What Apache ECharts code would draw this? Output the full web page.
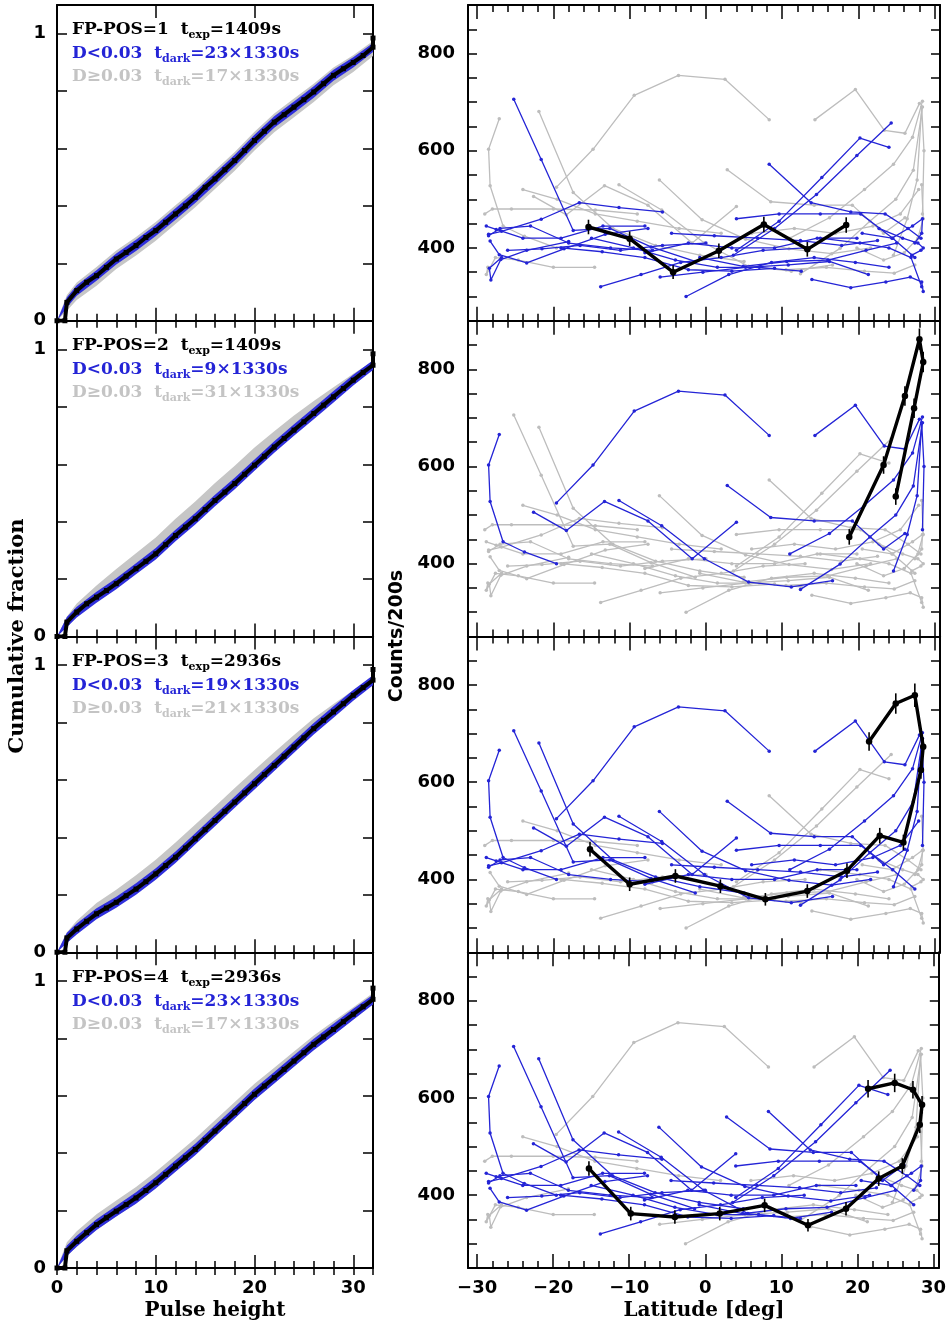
<!DOCTYPE html>
<html>
<head>
<meta charset="utf-8">
<script src="https://cdn.jsdelivr.net/npm/echarts@6/dist/echarts.min.js"></script>
<style>
html,body{margin:0;padding:0;background:#fff}
#chart{width:949px;height:1328px}
</style>
</head>
<body>
<div id="chart"></div>
<script>
// ---------- pulse-height distributions (left column) ----------
const pulseBins = [0,0.8,1,2,3,4,5,6,7,8,9,10,11,12,13,14,15,16,17,18,19,20,21,22,23,24,25,26,27,28,29,30,31,32,32];
const cumFP1 = [0,0,0.064,0.105,0.134,0.157,0.186,0.215,0.238,0.262,0.29,0.314,0.343,0.372,0.40,0.43,0.465,0.494,0.526,0.558,0.593,0.628,0.66,0.692,0.718,0.744,0.77,0.797,0.826,0.855,0.878,0.90,0.924,0.953,0.985];
const cumFP2 = [0,0,0.05,0.085,0.114,0.137,0.16,0.184,0.21,0.236,0.262,0.288,0.32,0.352,0.381,0.41,0.442,0.474,0.503,0.533,0.565,0.597,0.628,0.66,0.69,0.719,0.748,0.777,0.806,0.835,0.864,0.893,0.92,0.945,0.985];
const cumFP3 = [0,0,0.05,0.081,0.108,0.134,0.154,0.174,0.197,0.22,0.246,0.273,0.302,0.331,0.363,0.395,0.427,0.459,0.491,0.523,0.555,0.587,0.619,0.651,0.683,0.715,0.747,0.779,0.808,0.837,0.866,0.895,0.922,0.948,0.985];
const cumFP4 = [0,0,0.06,0.093,0.123,0.151,0.175,0.198,0.221,0.244,0.27,0.297,0.326,0.355,0.384,0.413,0.445,0.477,0.509,0.541,0.573,0.605,0.634,0.663,0.692,0.721,0.75,0.779,0.805,0.831,0.858,0.884,0.91,0.936,0.975];

// envelopes of the individual dark-frame distributions
const bandPulse = [0,1,2,4,6,8,10,12,14,16,18,20,22,24,26,28,30,32];
const grayLo1 = [0,0.035,0.072,0.122,0.18,0.227,0.279,0.337,0.395,0.459,0.523,0.593,0.657,0.709,0.762,0.82,0.867,0.922];
const grayHi1 = [0,0.09,0.133,0.187,0.245,0.292,0.344,0.402,0.46,0.524,0.588,0.658,0.722,0.774,0.826,0.882,0.925,0.975];
const blueLo1 = [0,0.046,0.087,0.139,0.196,0.243,0.295,0.352,0.41,0.474,0.538,0.607,0.672,0.724,0.777,0.836,0.882,0.936];
const blueHi1 = [0,0.082,0.124,0.176,0.234,0.282,0.334,0.392,0.45,0.514,0.578,0.648,0.712,0.764,0.817,0.874,0.918,0.968];
const grayLo2 = [0,0.045,0.082,0.135,0.185,0.24,0.295,0.36,0.42,0.485,0.545,0.61,0.672,0.73,0.787,0.843,0.898,0.948];
const grayHi2 = [0,0.07,0.115,0.178,0.235,0.29,0.345,0.41,0.47,0.535,0.595,0.658,0.715,0.77,0.82,0.868,0.915,0.96];
const blueLo2 = [0,0.032,0.066,0.118,0.165,0.217,0.268,0.332,0.39,0.454,0.513,0.577,0.64,0.699,0.757,0.815,0.874,0.928];
const blueHi2 = [0,0.068,0.104,0.156,0.203,0.255,0.308,0.372,0.43,0.494,0.553,0.617,0.68,0.739,0.797,0.855,0.912,0.962];
const grayLo3 = [0,0.045,0.08,0.135,0.18,0.228,0.283,0.342,0.405,0.47,0.533,0.598,0.662,0.725,0.787,0.843,0.898,0.95];
const grayHi3 = [0,0.07,0.11,0.172,0.218,0.268,0.322,0.382,0.445,0.508,0.572,0.635,0.697,0.757,0.815,0.865,0.913,0.96];
const blueLo3 = [0,0.032,0.062,0.115,0.155,0.2,0.253,0.311,0.375,0.439,0.503,0.567,0.631,0.695,0.759,0.817,0.876,0.93];
const blueHi3 = [0,0.068,0.1,0.153,0.193,0.24,0.293,0.351,0.415,0.479,0.543,0.607,0.671,0.735,0.799,0.857,0.914,0.965];
const grayLo4 = [0,0.04,0.075,0.132,0.18,0.226,0.278,0.336,0.394,0.458,0.522,0.586,0.644,0.702,0.76,0.813,0.866,0.92];
const grayHi4 = [0,0.09,0.128,0.187,0.235,0.282,0.335,0.393,0.451,0.515,0.578,0.642,0.698,0.754,0.81,0.86,0.908,0.958];
const blueLo4 = [0,0.042,0.074,0.132,0.179,0.224,0.277,0.335,0.393,0.457,0.521,0.585,0.643,0.701,0.759,0.811,0.865,0.918];
const blueHi4 = [0,0.078,0.112,0.17,0.217,0.264,0.317,0.375,0.433,0.497,0.561,0.625,0.683,0.741,0.799,0.851,0.903,0.952];

// ---------- count rate along the orbit (right column) ----------
// one track per dark exposure: latitude [deg] and counts per 200 s bin
const trackLatitudes = [
  [-19.6,-14.8,-9.4,-3.6,2.5,8.3],
  [14.3,19.6,23.4,26.1,28.0],
  [-27.1,-28.5,-28.3,-26.6,-23.8,-19.6],
  [-25.2,-21.6,-17.4,-12.6,-7.2,-1.4],
  [-21.9,-17.4,-12.2,-6.6,-0.8,5.0],
  [-22.6,-18.3,-13.3,-7.6,-1.8,4.0],
  [-11.4,-5.8,-0.2,5.6,11.2,16.6],
  [-6.1,-0.5,5.2,10.9,16.5,21.6],
  [2.8,8.5,14.2,19.2,23.3,26.1],
  [8.3,13.8,19.0,23.5,26.5,28.2],
  [4.0,9.6,15.2,20.2,24.0],
  [3.6,9.0,14.5,19.8,24.3],
  [12.4,17.6,21.5,24.9,27.2,28.4],
  [11.0,16.2,20.8,24.6,27.1,28.4],
  [24.6,26.4,27.7,28.3,28.6,28.4],
  [-28.5,-26.8,-21.6,-16.6,-11.4,-5.7],
  [-28.3,-27.1,-23.5,-18.6,-13.2,-7.6],
  [-26.8,-28.4,-28.2,-26.9,-23.5,-18.0],
  [-28.8,-27.5,-24.0,-19.0,-13.5,-8.0],
  [-29.0,-28.0,-25.5,-20.0,-14.5,-9.0],
  [-28.5,-27.0,-23.0,-18.0,-12.5,-7.0],
  [-15.0,-9.5,-4.0,1.5,7.0,12.5],
  [-13.8,-8.5,-3.3,2.0,7.5,13.0],
  [-2.6,3.0,8.6,14.2,19.6,24.0],
  [-6.0,-0.4,5.2,10.8,16.2,21.3],
  [4.0,9.6,15.0,20.3,24.5,27.4],
  [13.9,19.0,23.6,26.8,28.3,28.5],
  [19.8,23.3,26.0,27.8,28.5,28.3],
  [15.0,20.2,24.0,26.9,28.3],
  [-8.0,-2.3,3.4,9.0,14.6,19.8],
  [-19.0,-13.6,-8.0,-2.3,3.4,9.0],
  [20.5,24.4,27.1,28.4,28.3,27.4],
  [-26.0,-21.5,-16.5,-11.2,-5.7,0.0],
  [-0.8,4.9,10.6,16.0,21.0,25.0],
  [22.7,25.8,27.8,28.5,28.2,27.0],
  [-28.6,-28.8,-27.6,-24.6,-20.0,-14.6],
  [10.5,15.8,20.8,24.7,27.4],
  [-4.5,1.1,6.8,12.4,17.8,22.5],
  [-24.0,-19.5,-14.5,-9.0,-3.5,2.0],
  [6.0,11.6,17.0,21.9,25.5,27.9]
];
const trackCounts = [
  [525,603,714,755,747,664],
  [664,726,642,636,697],
  [666,603,528,445,424,400],
  [706,582,436,440,402,372],
  [681,514,440,405,385,372],
  [506,468,528,488,410,485],
  [530,478,410,362,352,365],
  [540,458,418,398,388,400],
  [561,495,488,488,430,462],
  [572,493,474,470,440,420],
  [395,455,545,626,607],
  [385,440,510,590,657],
  [347,399,455,500,560,690],
  [420,462,520,572,628,702],
  [385,460,540,690,600,470],
  [428,434,459,493,483,474],
  [414,386,369,398,428,440],
  [380,358,334,376,395,413],
  [445,438,420,420,445,445],
  [470,480,480,480,478,470],
  [425,440,445,410,400,395],
  [420,400,375,360,360,352],
  [320,345,370,380,395,400],
  [300,345,370,380,370,360],
  [340,350,360,365,372,345],
  [460,470,470,470,420,380],
  [335,318,330,340,330,310],
  [400,375,390,420,460,530],
  [420,410,400,380,320],
  [390,410,400,400,420,420],
  [400,392,380,355,352,358],
  [430,420,445,460,430,410],
  [395,398,405,395,405,410],
  [380,362,372,375,395,410],
  [440,420,410,400,395,385],
  [360,345,380,375,360,360],
  [355,360,352,348,365],
  [430,425,420,415,405,415],
  [520,500,470,455,440,430],
  [430,440,430,445,470,520]
];
// tracks with D<0.03 for each FP-POS (the rest have D>=0.03)
const lowDarkFP1 = [3,9,10,11,15,16,17,18,20,21,22,23,24,25,26,28,29,30,31,32,33,34,37];
const lowDarkFP2 = [0,1,2,5,6,8,12,13,14];
const lowDarkFP3 = [0,1,2,3,4,5,6,7,8,12,13,14,15,18,20,25,29,37,39];
const lowDarkFP4 = [2,3,4,5,6,7,8,9,10,11,15,16,18,20,21,22,25,29,30,31,32,33,37];

// science exposure for each FP-POS
const sciLatFP1 = [-15.4,-10.0,-4.3,1.7,7.6,13.3,18.4];
const sciCntFP1 = [443,419,350,394,448,397,447];
const sciErrFP1 = [15,15,14,15,16,15,16];
const sciLatFP2 = [18.8,23.3,26.1,28.0,28.5,27.3,24.9];
const sciCntFP2 = [455,603,745,862,815,720,538];
const sciErrFP2 = [16,18,20,22,21,20,17];
const sciLatFP3 = [-15.2,-10.0,-4.0,1.9,7.8,13.3,18.5,22.8,25.9,28.2,28.5,27.4,24.9,21.4];
const sciCntFP3 = [462,390,407,386,359,376,418,490,476,625,673,779,762,684];
const sciErrFP3 = [15,14,14,14,13,14,15,16,16,18,19,24,21,19];
const sciLatFP4 = [-15.3,-9.8,-4.0,1.9,7.8,13.5,18.5,22.8,25.9,28.2,28.5,27.3,24.9,21.4];
const sciCntFP4 = [455,362,355,362,379,338,372,434,460,545,586,617,631,619];
const sciErrFP4 = [15,14,14,14,14,13,14,15,16,17,18,18,19,18];

// ---------- axis ticks and labels ----------
const pulseMajor = [0,10,20,30];
const pulseMinor = [0,2,4,6,8,10,12,14,16,18,20,22,24,26,28,30,32];
const fracTicks = [0,0.2,0.4,0.6,0.8,1];
const fracLabels = [0,1];
const latMajor = [-30,-20,-10,0,10,20,30];
const latMinor = [-30,-28,-26,-24,-22,-20,-18,-16,-14,-12,-10,-8,-6,-4,-2,0,2,4,6,8,10,12,14,16,18,20,22,24,26,28,30];
const countTicks = [300,350,400,450,500,550,600,650,700,750,800,850];
const countLabels = [400,600,800];

const fpNames = ['FP-POS=1','FP-POS=2','FP-POS=3','FP-POS=4'];
const expTimes = ['1409s','1409s','2936s','2936s'];
const nLowDark = [23,9,19,23];
const nHighDark = [17,31,21,17];

// ---------- layout ----------
const PANEL_TOP = [5, 320.75, 636.5, 952.25];
const PANEL_H = 315.75;
const BLUE = '#2424d6';
const GRAY = '#bdbdbd';
const SANS = 'DejaVu Sans';
const SERIF = 'DejaVu Serif';

const grids = [], xAxes = [], yAxes = [], series = [], graphics = [];
const tickLabel = {color:'#000', fontFamily:SANS, fontWeight:'bold', fontSize:18};
const minusFmt = v => (v < 0 ? '\u2212' + Math.abs(v) : String(v));

function addAxes(g, xr, yr, xMaj, xMin, xLab, yTicks, yLab, xLen, yLen, showX, yMargin) {
  const xi = xAxes.length;
  const frame = {show:true, onZero:false, lineStyle:{color:'#000', width:2}};
  const tickStyle = {color:'#000', width:1.5};
  const xb = {type:'value', gridIndex:g, min:xr[0], max:xr[1], splitLine:{show:false}};
  xAxes.push(Object.assign({}, xb, {position:'bottom', axisLine:frame,
    axisTick:{show:true, inside:true, length:xLen[0], customValues:xMaj, lineStyle:tickStyle},
    axisLabel:Object.assign({show:showX, customValues:xLab, margin:11, formatter:minusFmt}, tickLabel)}));
  xAxes.push(Object.assign({}, xb, {position:'bottom', axisLine:{show:false},
    axisTick:{show:true, inside:true, length:xLen[1], customValues:xMin, lineStyle:tickStyle},
    axisLabel:{show:false}}));
  xAxes.push(Object.assign({}, xb, {position:'top', axisLine:frame,
    axisTick:{show:true, inside:true, length:xLen[0], customValues:xMaj, lineStyle:tickStyle},
    axisLabel:{show:false}}));
  xAxes.push(Object.assign({}, xb, {position:'top', axisLine:{show:false},
    axisTick:{show:true, inside:true, length:xLen[1], customValues:xMin, lineStyle:tickStyle},
    axisLabel:{show:false}}));
  const yi = yAxes.length;
  const yb = {type:'value', gridIndex:g, min:yr[0], max:yr[1], splitLine:{show:false}};
  yAxes.push(Object.assign({}, yb, {position:'left', axisLine:frame,
    axisTick:{show:true, inside:true, length:yLen, customValues:yTicks, lineStyle:tickStyle},
    axisLabel:Object.assign({show:true, customValues:yLab, margin:yMargin}, tickLabel)}));
  yAxes.push(Object.assign({}, yb, {position:'right', axisLine:frame,
    axisTick:{show:true, inside:true, length:yLen, customValues:yTicks, lineStyle:tickStyle},
    axisLabel:{show:false}}));
  return {xi, yi};
}

function band(ax, xs, lo, hi, color, z) {
  return {type:'custom', xAxisIndex:ax.xi, yAxisIndex:ax.yi, data:[[xs[0], lo[0]]],
    silent:true, animation:false, clip:true, z:z,
    renderItem(params, api) {
      const pts = [];
      for (let k = 0; k < xs.length; k++) pts.push(api.coord([xs[k], hi[k]]));
      for (let k = xs.length - 1; k >= 0; k--) pts.push(api.coord([xs[k], lo[k]]));
      return {type:'polygon', shape:{points:pts}, style:{fill:color}};
    }};
}

// left column: cumulative pulse-height distributions
const cumBlack = [cumFP1, cumFP2, cumFP3, cumFP4];
const grayLo = [grayLo1, grayLo2, grayLo3, grayLo4];
const grayHi = [grayHi1, grayHi2, grayHi3, grayHi4];
const blueLo = [blueLo1, blueLo2, blueLo3, blueLo4];
const blueHi = [blueHi1, blueHi2, blueHi3, blueHi4];

for (let p = 0; p < 4; p++) {
  grids.push({left:57, width:316, top:PANEL_TOP[p], height:PANEL_H, containLabel:false});
  const ax = addAxes(grids.length - 1, [0, 32], [0, 1.1], pulseMajor, pulseMinor, pulseMajor,
    fracTicks, fracLabels, [13, 7], 10, p === 3, 11);
  series.push(band(ax, bandPulse, grayLo[p], grayHi[p], '#c6c6c6', 2));
  series.push(band(ax, bandPulse, blueLo[p], blueHi[p], '#3030dc', 3));
  series.push({type:'line', xAxisIndex:ax.xi, yAxisIndex:ax.yi,
    data:pulseBins.map((v, k) => [v, cumBlack[p][k]]),
    symbol:'rect', symbolSize:5, showSymbol:true, silent:true, animation:false,
    lineStyle:{color:'#000', width:4}, itemStyle:{color:'#000'}, z:4});
}

// right column: counts per 200 s against latitude
const lowDark = [lowDarkFP1, lowDarkFP2, lowDarkFP3, lowDarkFP4];
const sciLat = [sciLatFP1, sciLatFP2, sciLatFP3, sciLatFP4];
const sciCnt = [sciCntFP1, sciCntFP2, sciCntFP3, sciCntFP4];
const sciErr = [sciErrFP1, sciErrFP2, sciErrFP3, sciErrFP4];

function trackSeries(ax, t, color, z) {
  return {type:'line', xAxisIndex:ax.xi, yAxisIndex:ax.yi,
    data:trackLatitudes[t].map((v, k) => [v, trackCounts[t][k]]),
    symbol:'circle', symbolSize:3.5, showSymbol:true, silent:true, animation:false,
    lineStyle:{color:color, width:1.3}, itemStyle:{color:color}, z:z};
}

for (let p = 0; p < 4; p++) {
  grids.push({left:468, width:472, top:PANEL_TOP[p], height:PANEL_H, containLabel:false});
  const ax = addAxes(grids.length - 1, [-31.2, 30.7], [250, 900], latMajor, latMinor, latMajor,
    countTicks, countLabels, [14, 7], 9, p === 3, 13);
  for (let t = 0; t < trackLatitudes.length; t++) {
    if (lowDark[p].indexOf(t) < 0) series.push(trackSeries(ax, t, GRAY, 2));
  }
  for (let t = 0; t < trackLatitudes.length; t++) {
    if (lowDark[p].indexOf(t) >= 0) series.push(trackSeries(ax, t, BLUE, 3));
  }
  series.push({type:'custom', xAxisIndex:ax.xi, yAxisIndex:ax.yi, silent:true, animation:false, z:5,
    data:sciLat[p].map((v, k) => [v, sciCnt[p][k], sciErr[p][k]]),
    encode:{x:0, y:1},
    renderItem(params, api) {
      const x = api.value(0), y = api.value(1), e = api.value(2);
      const a = api.coord([x, y - e]), b = api.coord([x, y + e]);
      return {type:'line', shape:{x1:a[0], y1:a[1], x2:b[0], y2:b[1]}, style:{stroke:'#000', lineWidth:1.6}};
    }});
  series.push({type:'line', xAxisIndex:ax.xi, yAxisIndex:ax.yi,
    data:sciLat[p].map((v, k) => [v, sciCnt[p][k]]),
    symbol:'circle', symbolSize:6.5, showSymbol:true, silent:true, animation:false,
    lineStyle:{color:'#000', width:3.4}, itemStyle:{color:'#000'}, z:6});
}

// panel annotations
function richFor(color) {
  return {
    m:{fontFamily:SERIF, fontWeight:'bold', fontSize:17, lineHeight:22, fill:color},
    s:{fontFamily:SERIF, fontWeight:'bold', fontSize:11, lineHeight:9, verticalAlign:'bottom', fill:color}
  };
}
for (let p = 0; p < 4; p++) {
  const y0 = PANEL_TOP[p];
  const lines = [
    {text:'{m|' + fpNames[p] + '  t}{s|exp}{m|=' + expTimes[p] + '}', color:'#000', dy:25},
    {text:'{m|D<0.03  t}{s|dark}{m|=' + nLowDark[p] + '\u00d71330s}', color:BLUE, dy:49},
    {text:'{m|D\u22650.03  t}{s|dark}{m|=' + nHighDark[p] + '\u00d71330s}', color:'#c4c4c4', dy:72}
  ];
  lines.forEach(l => graphics.push({type:'text', x:72, y:y0 + l.dy, z:10, silent:true,
    style:{text:l.text, rich:richFor(l.color), fill:l.color, align:'left', verticalAlign:'middle'}}));
}

// axis titles
graphics.push({type:'text', x:215, y:1311, silent:true,
  style:{text:'Pulse height', fontFamily:SERIF, fontWeight:'bold', fontSize:20, fill:'#000', align:'center', verticalAlign:'middle'}});
graphics.push({type:'text', x:704, y:1311, silent:true,
  style:{text:'Latitude [deg]', fontFamily:SERIF, fontWeight:'bold', fontSize:20, fill:'#000', align:'center', verticalAlign:'middle'}});
graphics.push({type:'text', x:18, y:636, rotation:Math.PI / 2, silent:true,
  style:{text:'Cumulative fraction', fontFamily:SERIF, fontWeight:'bold', fontSize:21, fill:'#000', align:'center', verticalAlign:'middle'}});
graphics.push({type:'text', x:397, y:636, rotation:Math.PI / 2, silent:true,
  style:{text:'Counts/200s', fontFamily:SANS, fontWeight:'bold', fontSize:19, fill:'#000', align:'center', verticalAlign:'middle'}});

const chart = echarts.init(document.getElementById('chart'), null, {renderer:'canvas', width:949, height:1328});
chart.setOption({
  animation:false,
  backgroundColor:'#ffffff',
  grid:grids,
  xAxis:xAxes,
  yAxis:yAxes,
  series:series,
  graphic:graphics
});
</script>
</body>
</html>
